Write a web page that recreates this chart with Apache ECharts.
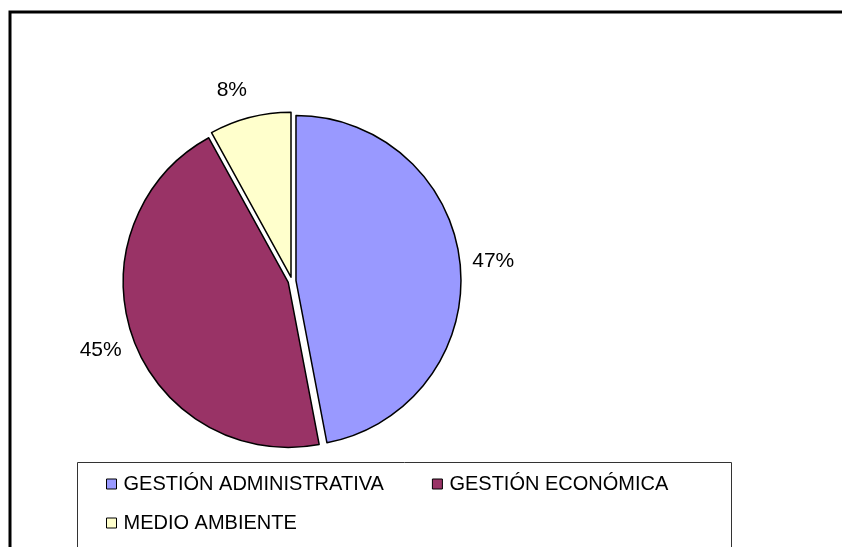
<!DOCTYPE html>
<html>
<head>
<meta charset="utf-8">
<script src="https://cdn.jsdelivr.net/npm/echarts@6/dist/echarts.min.js"></script>
<style>html,body{margin:0;padding:0;background:#fff}#c{width:842px;height:547px}</style>
</head>
<body>
<div id="c"></div>
<script>
const categories = ['GESTIÓN ADMINISTRATIVA', 'GESTIÓN ECONÓMICA', 'MEDIO AMBIENTE'];
const values = [47, 45, 8];
const colors = ['#9999FF', '#993366', '#FFFFCC'];

// label vertical nudge: 0 none, 1 push down, -1 push up (with per-item line height)
const labelNudge = [-1, 1, -1];
const labelLineHeights = [6, 16, 30];
const FONT = 'Liberation Sans, Arial, sans-serif';

const chart = echarts.init(document.getElementById('c'), null, {renderer: 'canvas'});
chart.setOption({
  animation: false,
  backgroundColor: '#fff',
  graphic: [
    {type: 'rect', shape: {x: 10, y: 12, width: 900, height: 600}, style: {fill: 'none', stroke: '#000', lineWidth: 3}, silent: true},
    {type: 'rect', shape: {x: 77.5, y: 462.5, width: 654, height: 200}, style: {fill: 'none', stroke: '#333', lineWidth: 1}, silent: true}
  ],
  legend: [
    {
      data: categories.slice(0, 2), left: 101, top: 469, orient: 'horizontal',
      icon: 'rect', itemWidth: 10, itemHeight: 10, itemGap: 48,
      selectedMode: false,
      itemStyle: {borderColor: '#000', borderWidth: 1},
      textStyle: {fontFamily: FONT, fontSize: 20, color: '#000', lineHeight: 20, padding: [0, 0, 0, 2]}
    },
    {
      data: categories.slice(2), left: 101, top: 508, orient: 'horizontal',
      icon: 'rect', itemWidth: 10, itemHeight: 10,
      selectedMode: false,
      itemStyle: {borderColor: '#000', borderWidth: 1},
      textStyle: {fontFamily: FONT, fontSize: 20, color: '#000', lineHeight: 20, padding: [0, 0, 0, 2]}
    }
  ],
  series: [{
    type: 'pie',
    center: [292, 281],
    radius: 165,
    startAngle: 90,
    clockwise: true,
    avoidLabelOverlap: false,
    selectedMode: 'multiple',
    selectedOffset: 4,
    emphasis: {disabled: true},
    select: {itemStyle: {borderColor: '#000', borderWidth: 1.5}},
    itemStyle: {borderColor: '#000', borderWidth: 1.5},
    label: {
      show: true, position: 'outside', distanceToLabelLine: 0,
      fontFamily: FONT, fontSize: 21, color: '#000',
      formatter: p => {
        const t = Math.round(p.percent) + '%';
        const n = labelNudge[p.dataIndex];
        return n > 0 ? '\n' + t : (n < 0 ? t + '\n' : t);
      }
    },
    labelLine: {show: false, length: 12, length2: 0},
    data: categories.map((n, i) => ({
      name: n, value: values[i], selected: true,
      itemStyle: {color: colors[i]},
      select: {itemStyle: {color: colors[i]}},
      label: {lineHeight: labelLineHeights[i]}
    }))
  }]
});
</script>
</body>
</html>
